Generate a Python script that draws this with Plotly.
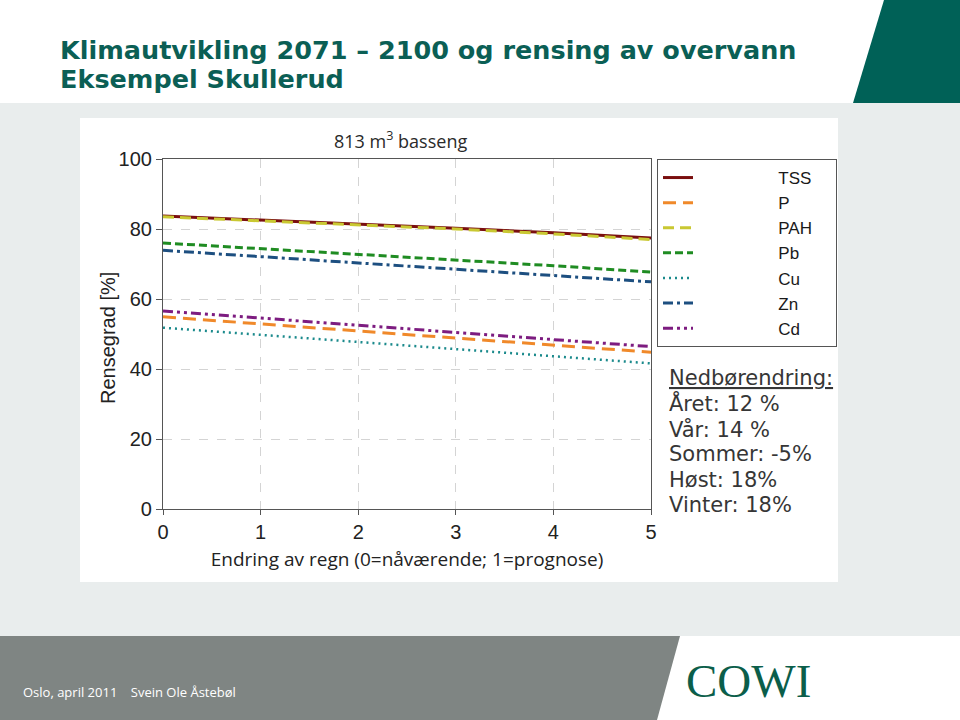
import plotly.graph_objects as go

# ---------------- data ----------------
x_vals = [0, 1, 2, 3, 4, 5]
series_names = ["TSS", "P", "PAH", "Pb", "Cu", "Zn", "Cd"]
tss = [83.7, 82.6, 81.4, 80.2, 78.9, 77.4]
p = [54.9, 52.9, 50.9, 48.9, 46.8, 44.8]
pah = [83.5, 82.4, 81.2, 80.0, 78.6, 77.0]
pb = [76.0, 74.4, 72.8, 71.2, 69.5, 67.7]
cu = [51.8, 49.8, 47.8, 45.7, 43.7, 41.6]
zn = [73.9, 72.1, 70.3, 68.5, 66.7, 64.9]
cd = [56.6, 54.5, 52.5, 50.5, 48.4, 46.4]
series_values = [tss, p, pah, pb, cu, zn, cd]

y_ticks = [0, 20, 40, 60, 80, 100]
x_ticks = [0, 1, 2, 3, 4, 5]

title_lines = ["Klimautvikling 2071 \u2013 2100 og rensing av overvann", "Eksempel Skullerud"]
chart_title = "813 m<sup>3</sup> basseng"
x_title = "Endring av regn (0=n\u00e5v\u00e6rende; 1=prognose)"
y_title = "Rensegrad [%]"
note_lines = ["<u>Nedb\u00f8rendring:</u>", "\u00c5ret: 12 %", "V\u00e5r: 14 %", "Sommer: -5%", "H\u00f8st: 18%", "Vinter: 18%"]
footer_text = "Oslo, april 2011\u00a0\u00a0\u00a0\u00a0Svein Ole \u00c5steb\u00f8l"
logo_text = "COWI"

# ---------------- styles ----------------
styles = {
    "TSS": dict(color="#7a0f0f", dash="solid", width=3),
    "P": dict(color="#f0892a", dash="13px,7px", width=3),
    "PAH": dict(color="#c9c832", dash="11px,6px", width=3),
    "Pb": dict(color="#1f8c22", dash="8px,4px", width=3),
    "Cu": dict(color="#1b8a8c", dash="2px,4px", width=2.5),
    "Zn": dict(color="#1d4f80", dash="10px,4px,3px,4px", width=3),
    "Cd": dict(color="#7d1c80", dash="10px,4px,3px,4px,3px,4px", width=3),
}

W, H = 960, 720


def px(x):
    return x / W


def py(y):
    return 1 - y / H


fig = go.Figure()
for name, vals in zip(series_names, series_values):
    fig.add_trace(go.Scatter(
        x=x_vals, y=vals, mode="lines",
        name="\u00a0" * 17 + name + "\u00a0" * 4,
        line=styles[name],
        hoverinfo="skip",
    ))

shapes = [
    dict(type="rect", xref="paper", yref="paper", x0=px(0), x1=px(960), y0=py(636), y1=py(103),
         fillcolor="#e9eded", line=dict(width=0), layer="below"),
    dict(type="rect", xref="paper", yref="paper", x0=px(80), x1=px(838), y0=py(582), y1=py(118),
         fillcolor="white", line=dict(width=0), layer="below"),
    dict(type="path", xref="paper", yref="paper",
         path=f"M {px(884)} {py(0)} L {px(960)} {py(0)} L {px(960)} {py(103)} L {px(853)} {py(103)} Z",
         fillcolor="#006157", line=dict(width=0), layer="below"),
    dict(type="path", xref="paper", yref="paper",
         path=f"M {px(0)} {py(636)} L {px(680)} {py(636)} L {px(657)} {py(720)} L {px(0)} {py(720)} Z",
         fillcolor="#7f8583", line=dict(width=0), layer="below"),
]

annotations = [
    dict(text=title_lines[0], x=px(58), y=py(50), xref="paper", yref="paper", xanchor="left", yanchor="middle",
         showarrow=False, font=dict(family="DejaVu Sans", size=25.5, color="#0b5f55", weight="bold")),
    dict(text=title_lines[1], x=px(58), y=py(79), xref="paper", yref="paper", xanchor="left", yanchor="middle",
         showarrow=False, font=dict(family="DejaVu Sans", size=25.5, color="#0b5f55", weight="bold")),
    dict(text=chart_title, x=px(400), y=py(140), xref="paper", yref="paper", xanchor="center", yanchor="middle",
         showarrow=False, font=dict(family="Open Sans", size=18, color="#2a2a2a")),
    dict(text=y_title, x=px(108), y=py(338), xref="paper", yref="paper", xanchor="center", yanchor="middle",
         textangle=-90, showarrow=False, font=dict(family="Liberation Sans", size=20, color="#222222")),
    dict(text=footer_text, x=px(21), y=py(692), xref="paper", yref="paper", xanchor="left", yanchor="middle",
         showarrow=False, font=dict(family="Open Sans", size=13, color="white")),
    dict(text=logo_text, x=px(748), y=py(681), xref="paper", yref="paper", xanchor="center", yanchor="middle",
         showarrow=False, font=dict(family="Liberation Serif", size=47, color="#0b5e4a")),
]
note_y = [378, 403, 429, 454, 480, 505]
for t, yy in zip(note_lines, note_y):
    annotations.append(dict(text=t, x=px(667), y=py(yy), xref="paper", yref="paper", xanchor="left",
                            yanchor="middle", showarrow=False,
                            font=dict(family="DejaVu Sans", size=21, color="#363636")))

fig.update_layout(
    width=W, height=H,
    margin=dict(l=0, r=0, t=0, b=0, pad=0, autoexpand=False),
    paper_bgcolor="white",
    plot_bgcolor="white",
    showlegend=True,
    legend=dict(x=px(657), y=py(159), xanchor="left", yanchor="top",
                bordercolor="#555555", borderwidth=1, bgcolor="white",
                font=dict(family="Liberation Sans", size=17, color="#1a1a1a"),
                tracegroupgap=0, itemwidth=30),
    shapes=shapes,
    annotations=annotations,
    xaxis=dict(domain=[px(163), px(651)], range=[0, 5], tickvals=x_ticks, showgrid=True,
               gridcolor="#d4d4d4", griddash="dash", gridwidth=1,
               showline=True, linecolor="#555555", linewidth=1.2, mirror=True,
               ticks="outside", ticklen=5, tickcolor="#555555", zeroline=False,
               tickfont=dict(family="Liberation Sans", size=20, color="#222222"),
               title=dict(text=x_title, standoff=10,
                          font=dict(family="Open Sans", size=19, color="#222222"))),
    yaxis=dict(domain=[py(509), py(159)], range=[0, 100], tickvals=y_ticks, showgrid=True,
               gridcolor="#d4d4d4", griddash="dash", gridwidth=1,
               showline=True, linecolor="#555555", linewidth=1.2, mirror=True,
               ticks="outside", ticklen=6, tickcolor="#555555", zeroline=False,
               tickfont=dict(family="Liberation Sans", size=20, color="#222222")),
)

fig.write_html("out.html", config={"displayModeBar": False},
               post_script="document.body.style.margin='0';document.body.style.overflow='hidden';")
